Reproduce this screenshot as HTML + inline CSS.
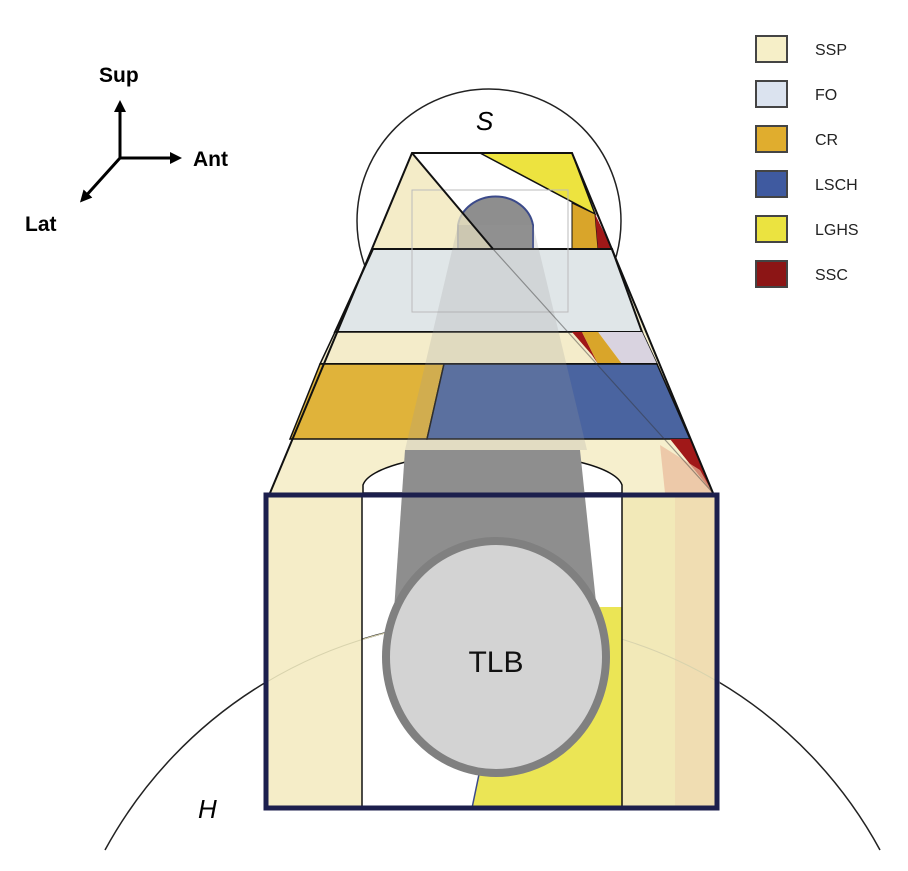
<!DOCTYPE html>
<html><head><meta charset="utf-8"><style>
html,body{margin:0;padding:0;background:#fff;}
svg{display:block;}
text{font-family:"Liberation Sans",sans-serif;}
</style></head><body>
<svg width="908" height="871" viewBox="0 0 908 871" xmlns="http://www.w3.org/2000/svg">
<defs>
<marker id="ah" markerWidth="12" markerHeight="12" refX="6" refY="6" orient="auto" markerUnits="userSpaceOnUse">
<path d="M0,0 L12,6 L0,12 z" fill="#000"/>
</marker>
</defs>
<!-- H arc -->
<path d="M105,850 A441,441 0 0 1 880,850" fill="none" stroke="#222" stroke-width="1.5"/>
<!-- S circle -->
<circle cx="489" cy="221" r="132" fill="#fff" stroke="#222" stroke-width="1.5"/>
<text x="476" y="130" font-size="26" font-style="italic">S</text>

<!-- pyramid base fill (cream) -->
<polygon points="412,153 572,153 713,493 270,493" fill="#f6efcd" stroke="none"/>
<polygon points="412,153 572,153 612,249 493,249" fill="#fff"/>
<!-- gray capsule head -->
<path d="M458,249 L458,225 A38,34 0 0 1 533,225 L533,249 Z" fill="#8e8e8e" stroke="#3b4a8a" stroke-width="2"/>
<polygon points="412,153 493,249 373,249" fill="#f3ebc6" opacity="0.75"/>
<!-- LGHS triangle top -->
<polygon points="480,153 572,153 595,214" fill="#ede33f" stroke="#111" stroke-width="1.5"/>
<polygon points="572,203 595,214 598,249 572,249" fill="#d9a52a" stroke="#111" stroke-width="1"/>
<polygon points="595,214 612,249 598,249" fill="#a01818"/>
<!-- FO band -->
<polygon points="373,249 612,249 642,332 335,332" fill="#dbe3ef" opacity="0.8"/>
<polygon points="373,249 612,249 642,332 335,332" fill="none" stroke="#111" stroke-width="2"/>
<rect x="412" y="190" width="156" height="122" fill="none" stroke="#bbb" stroke-width="1"/>
<!-- thin band -->
<polygon points="335,332 642,332 657,364 320,364" fill="#f4ecca" stroke="#111" stroke-width="1.5"/>
<polygon points="598,332 642,332 657,364 622,364" fill="#d9d3e0"/>
<polygon points="572,332 582,332 598,364 592,355" fill="#a01818"/>
<polygon points="582,332 598,332 622,364 598,364" fill="#d9a52a"/>
<line x1="320" y1="364" x2="657" y2="364" stroke="#111" stroke-width="2"/>
<!-- CR / LSCH band -->
<polygon points="320,364 444,364 427,439 290,439" fill="#e0b33a" stroke="#111" stroke-width="1.5"/>
<polygon points="444,364 657,364 690,439 427,439" fill="#4a64a0" stroke="#111" stroke-width="1.5"/>
<!-- ghost shaft through bands -->
<polygon points="458,225 533,225 587,450 405,450" fill="#999" opacity="0.22"/>
<!-- lower region -->
<polygon points="670,439 690,439 713,493" fill="#a01818"/>
<polygon points="660,445 700,470 713,493 665,493" fill="#e9b99a" opacity="0.7"/>
<!-- diagonal -->
<line x1="412" y1="153" x2="493" y2="249" stroke="#111" stroke-width="2"/>
<line x1="493" y1="249" x2="713" y2="493" stroke="#333" stroke-width="1.2" opacity="0.45"/>
<!-- arch -->
<path d="M363,493 L363,485 A130,35 0 0 1 622,485 L622,493 Z" fill="#fff" stroke="#111" stroke-width="1.5"/>
<polyline points="270,493 412,153 572,153 713,493" fill="none" stroke="#111" stroke-width="2"/>

<!-- box -->
<rect x="264" y="493" width="98" height="315" fill="#f5edc8"/>
<rect x="622" y="493" width="95" height="315" fill="#f2e9b8"/>
<rect x="675" y="493" width="42" height="315" fill="#efd9b0" opacity="0.8"/>
<path d="M265,683 A441,441 0 0 1 720,683" fill="none" stroke="#d8d3ad" stroke-width="1"/>
<polygon points="405,450 580,450 600,640 392,640" fill="#8e8e8e"/>
<polygon points="600,607 622,607 622,808 472,808 482,760" fill="#ebe555"/>
<line x1="482" y1="760" x2="472" y2="808" stroke="#3b4a8a" stroke-width="1.5"/>
<ellipse cx="496" cy="657" rx="110" ry="116" fill="#d3d3d3" stroke="#808080" stroke-width="8"/>
<text x="496" y="672" font-size="30" text-anchor="middle" fill="#111">TLB</text>
<line x1="362" y1="493" x2="362" y2="808" stroke="#111" stroke-width="1.5"/>
<line x1="622" y1="493" x2="622" y2="808" stroke="#111" stroke-width="1.5"/>
<rect x="266" y="495" width="451" height="313" fill="none" stroke="#1c1f4d" stroke-width="5"/>
<text x="198" y="818" font-size="26" font-style="italic">H</text>

<!-- axes -->
<line x1="120" y1="158" x2="120" y2="106" stroke="#000" stroke-width="3" marker-end="url(#ah)"/>
<line x1="120" y1="158" x2="176" y2="158" stroke="#000" stroke-width="3" marker-end="url(#ah)"/>
<line x1="120" y1="158" x2="84" y2="198" stroke="#000" stroke-width="3" marker-end="url(#ah)"/>
<text x="99" y="82" font-size="21" font-weight="bold">Sup</text>
<text x="193" y="166" font-size="21" font-weight="bold">Ant</text>
<text x="25" y="231" font-size="21" font-weight="bold">Lat</text>

<!-- legend -->
<g stroke="#444" stroke-width="2">
<rect x="756" y="36" width="31" height="26" fill="#f6efc8"/>
<rect x="756" y="81" width="31" height="26" fill="#dbe3ef"/>
<rect x="756" y="126" width="31" height="26" fill="#e0ad2e"/>
<rect x="756" y="171" width="31" height="26" fill="#3f5aa0"/>
<rect x="756" y="216" width="31" height="26" fill="#ebe340"/>
<rect x="756" y="261" width="31" height="26" fill="#8c1515"/>
</g>
<g font-size="16" fill="#222">
<text x="815" y="55">SSP</text>
<text x="815" y="100">FO</text>
<text x="815" y="145">CR</text>
<text x="815" y="190">LSCH</text>
<text x="815" y="235">LGHS</text>
<text x="815" y="280">SSC</text>
</g>
</svg>
</body></html>
